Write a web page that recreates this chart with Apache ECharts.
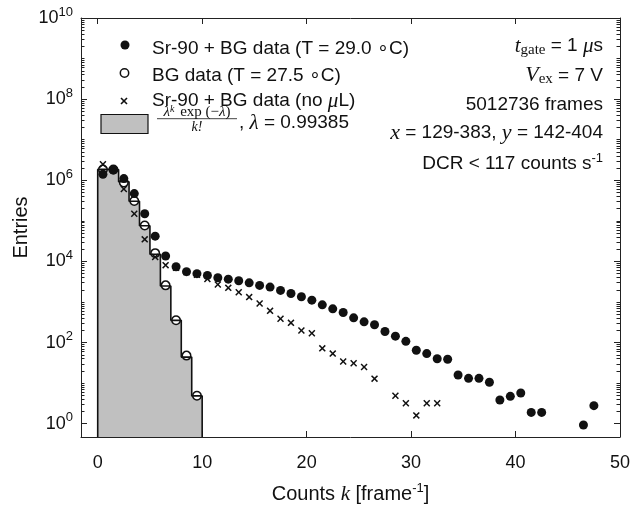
<!DOCTYPE html>
<html><head><meta charset="utf-8">
<script src="https://cdn.jsdelivr.net/npm/echarts@6/dist/echarts.min.js"></script>
<style>html,body{margin:0;padding:0;background:#fff}#c{width:631px;height:505px}</style>
</head><body><div id="c"></div>
<script>
// Poisson expectation histogram: bin edges and counts (bins k..k+1)
const histEdges = [0,1,2,3,4,5,6,7,8,9,10];
const histCounts = [1.855e6, 1.844e6, 9.16e5, 3.04e5, 7.54e4, 1.50e4, 2.48e3, 353, 43.8, 4.84];

// Sr-90 + BG data (T = 29.0 C)
const srX = [0.5,1.5,2.5,3.5,4.5,5.5,6.5,7.5,8.5,9.5,10.5,11.5,12.5,13.5,14.5,15.5,16.5,17.5,18.5,19.5,20.5,21.5,22.5,23.5,24.5,25.5,26.5,27.5,28.5,29.5,30.5,31.5,32.5,33.5,34.5,35.5,36.5,37.5,38.5,39.5,40.5,41.5,42.5,46.5,47.5];
const srY = [1.41e6,1.79e6,1.1e6,4.7e5,1.5e5,4.2e4,1.36e4,7.4e3,5.6e3,5.0e3,4.5e3,3.97e3,3.66e3,3.33e3,2.97e3,2.56e3,2.33e3,1.93e3,1.62e3,1.35e3,1.11e3,850,677,550,407,324,275,187,144,107,64.6,53.5,40,38.8,15.9,13.1,13.1,10.5,3.85,4.72,5.7,1.9,1.9,0.93,2.78];

// BG data (T = 27.5 C)
const bgX = [0.5,1.5,2.5,3.5,4.5,5.5,6.5,7.5,8.5,9.5];
const bgY = [1.85e6,1.84e6,8.8e5,3.1e5,7.7e4,1.6e4,2.57e3,355,47.7,4.9];

// Sr-90 + BG data (no microlens)
const noX = [0.5,1.5,2.5,3.5,4.5,5.5,6.5,7.5,8.5,9.5,10.5,11.5,12.5,13.5,14.5,15.5,16.5,17.5,18.5,19.5,20.5,21.5,22.5,23.5,24.5,25.5,26.5,28.5,29.5,30.5,31.5,32.5];
const noY = [2.48e6,1.8e6,6.1e5,1.5e5,3.5e4,1.28e4,8.1e3,7.0e3,5.4e3,4.7e3,3.7e3,2.7e3,2.23e3,1.74e3,1.32e3,914,605,387,306,198,169,72,53.5,34,30.9,25,12.9,4.9,3.2,1.6,3.2,3.2];

const xMin = -1.6, xMax = 50, yMin = 0.47, yMax = 1e10, yTickMin = 1;

const SANS = 'Liberation Sans, Arial, Helvetica, sans-serif';
const SERIF = 'Liberation Serif, Times New Roman, serif';
const INK = '#111';
const AX = '#222';

// plot box
const G = {left:81, top:18, width:539, height:419};
const decades = Math.log10(yMax) - Math.log10(yMin);
const tickGridH = G.height * (Math.log10(yMax) - Math.log10(yTickMin)) / decades;

function zip(xs, ys){ return xs.map((x,i)=>[x, ys[i]]); }
const histPts = [[histEdges[0], yMin]];
for (let i = 0; i < histCounts.length; i++) {
  histPts.push([histEdges[i], histCounts[i]]);
  histPts.push([histEdges[i+1], histCounts[i]]);
}
histPts.push([histEdges[histEdges.length-1], yMin]);

const crossPath = 'path://M0,1.5 L1.5,0 L5,3.5 L8.5,0 L10,1.5 L6.5,5 L10,8.5 L8.5,10 L5,6.5 L1.5,10 L0,8.5 L3.5,5 Z';

function yLab(v){
  const l = Math.log10(v), e = Math.round(l);
  if (Math.abs(l - e) > 1e-6 || e % 2 !== 0) return '';
  return '{b|10}{s|' + e + '}';
}
const lineOnly = {axisLine:{show:true, onZero:false, lineStyle:{color:AX, width:1}}, axisTick:{show:false}, axisLabel:{show:false}, splitLine:{show:false}};
function tickAxis(pos, major){
  const a = {type:'log', gridIndex:1, min:yTickMin, max:yMax, position:pos, interval: major ? 2 : 1,
    axisLine:{show:false, onZero:false}, splitLine:{show:false},
    axisTick:{show:true, inside:true, length: major ? 6 : 3.5, lineStyle:{color:AX, width:1}},
    axisLabel:{show:false}};
  if (!major) a.minorTick = {show:true, splitNumber:9, length:3.5, lineStyle:{color:AX, width:1}};
  if (major && pos === 'left') a.axisLabel = {show:true, margin:8, formatter:yLab, color:INK,
       rich:{b:{fontSize:18, fontFamily:SANS, color:INK},
             s:{fontSize:13, fontFamily:SANS, color:INK, padding:[0,0,12,0]}}};
  return a;
}

const chart = echarts.init(document.getElementById('c'), null, {renderer:'canvas'});
chart.setOption({
  animation:false,
  backgroundColor:'#fff',
  grid:[
    {left:G.left, top:G.top, width:G.width, height:G.height, containLabel:false, outerBoundsMode:'none'},
    {left:G.left, top:G.top, width:G.width, height:tickGridH, containLabel:false, outerBoundsMode:'none'}
  ],
  xAxis:[
    {type:'value', gridIndex:0, min:xMin, max:xMax, position:'bottom', splitNumber:5,
     axisLine:{show:true, onZero:false, lineStyle:{color:AX, width:1}},
     axisTick:{show:true, inside:true, length:6, lineStyle:{color:AX, width:1}},
     splitLine:{show:false},
     axisLabel:{fontSize:18, fontFamily:SANS, color:INK, margin:17, showMinLabel:false,
       formatter:v => (Math.abs(v % 10) < 1e-9 ? String(v) : '')},
     name:'Counts {k|k} [frame{s|-1}]', nameLocation:'middle', nameGap:45,
     nameTextStyle:{fontSize:20, fontFamily:SANS, color:INK,
       rich:{k:{fontSize:21, fontFamily:SERIF, fontStyle:'italic', color:INK},
             s:{fontSize:13, fontFamily:SANS, color:INK, padding:[0,0,12,0]}}}
    },
    {type:'value', gridIndex:0, min:xMin, max:xMax, position:'top', splitNumber:5,
     axisLine:{show:true, onZero:false, lineStyle:{color:AX, width:1}},
     axisTick:{show:true, inside:true, length:6, lineStyle:{color:AX, width:1}},
     axisLabel:{show:false}, splitLine:{show:false}},
    {type:'value', gridIndex:1, min:xMin, max:xMax, show:false}
  ],
  yAxis:[
    Object.assign({type:'log', gridIndex:0, min:yMin, max:yMax, position:'left',
      name:'Entries', nameLocation:'middle', nameGap:50, nameRotate:90,
      nameTextStyle:{fontSize:20, fontFamily:SANS, color:INK}}, lineOnly),
    Object.assign({type:'log', gridIndex:0, min:yMin, max:yMax, position:'right'}, lineOnly),
    tickAxis('left', true), tickAxis('left', false),
    tickAxis('right', true), tickAxis('right', false)
  ],
  series:[
    {name:'hist-fill', type:'line', data:histPts, symbol:'none', silent:true,
     lineStyle:{width:0, opacity:0}, areaStyle:{color:'#c0c0c0', opacity:1, origin:'start'}, z:1},
    {name:'BG data', type:'scatter', data:zip(bgX,bgY), symbol:'circle', symbolSize:8.5,
     itemStyle:{color:'#fff', borderColor:INK, borderWidth:1.5, opacity:1}, z:2},
    {name:'hist-line', type:'line', data:histPts, symbol:'none', silent:true,
     lineStyle:{width:1.6, color:INK}, z:3},
    {name:'Sr-90 + BG data', type:'scatter', data:zip(srX,srY), symbol:'circle', symbolSize:9,
     itemStyle:{color:INK, opacity:1}, z:4},
    {name:'no uL', type:'scatter', data:zip(noX,noY), symbol:crossPath, symbolSize:7,
     itemStyle:{color:INK, opacity:1}, z:5}
  ],
  graphic:[
    // legend
    {type:'circle', shape:{cx:125, cy:45, r:4.5}, style:{fill:INK}},
    {type:'text', style:{text:'Sr-90 + BG data (T = 29.0 \u2218C)', x:152, y:48.5, verticalAlign:'middle', font:'19px ' + SANS, fill:INK}},
    {type:'circle', shape:{cx:124.5, cy:73, r:4.2}, style:{fill:'#fff', stroke:INK, lineWidth:1.5}},
    {type:'text', style:{text:'BG data (T = 27.5 \u2218C)', x:152, y:76, verticalAlign:'middle', font:'19px ' + SANS, fill:INK}},
    {type:'line', shape:{x1:121, y1:98, x2:127, y2:104}, style:{stroke:INK, lineWidth:1.6}},
    {type:'line', shape:{x1:127, y1:98, x2:121, y2:104}, style:{stroke:INK, lineWidth:1.6}},
    {type:'text', style:{text:'Sr-90 + BG data (no {it|\u03bc}L)', x:152, y:101, verticalAlign:'middle', font:'19px ' + SANS, fill:INK,
      rich:{it:{fontFamily:SERIF, fontStyle:'italic', fontSize:21, fill:INK}}}},
    {type:'rect', shape:{x:101, y:114.5, width:47, height:19}, style:{fill:'#c0c0c0', stroke:INK, lineWidth:1.2}},
    {type:'text', style:{text:'{it|\u03bb}{sup|k}{rm| exp (\u2212}{it|\u03bb}{rm|)}', x:197, y:112, align:'center', verticalAlign:'middle', font:'15px ' + SERIF, fill:INK,
      rich:{it:{fontFamily:SERIF, fontStyle:'italic', fontSize:15, lineHeight:16, fill:INK},
            sup:{fontFamily:SERIF, fontStyle:'italic', fontSize:10, lineHeight:16, verticalAlign:'top', fill:INK, padding:[0,2,0,0]},
            rm:{fontFamily:SERIF, fontSize:15, lineHeight:16, fill:INK}}}},
    {type:'line', shape:{x1:157, y1:118.7, x2:237, y2:118.7}, style:{stroke:INK, lineWidth:0.8}},
    {type:'text', style:{text:'k!', x:197, y:127, align:'center', verticalAlign:'middle', font:'italic 14px ' + SERIF, fill:INK}},
    {type:'text', style:{text:', {it|\u03bb} = 0.99385', x:239, y:123, verticalAlign:'middle', font:'19px ' + SANS, fill:INK,
      rich:{it:{fontFamily:SERIF, fontStyle:'italic', fontSize:21, fill:INK}}}},
    // annotations (right aligned)
    {type:'text', style:{text:'{it|t}{sub|gate}{n| = 1 }{it|\u03bc}{n|s}', x:603, y:46, align:'right', verticalAlign:'middle', fill:INK,
      rich:{it:{fontFamily:SERIF, fontStyle:'italic', fontSize:21, fill:INK},
            sub:{fontFamily:SERIF, fontSize:15, fill:INK, padding:[8,0,0,0]},
            n:{fontFamily:SANS, fontSize:19, fill:INK}}}},
    {type:'text', style:{text:'{it|V}{sub|ex}{n| = 7 V}', x:603, y:75.5, align:'right', verticalAlign:'middle', fill:INK,
      rich:{it:{fontFamily:SERIF, fontStyle:'italic', fontSize:22, fill:INK},
            sub:{fontFamily:SERIF, fontSize:15, fill:INK, padding:[8,0,0,0]},
            n:{fontFamily:SANS, fontSize:19, fill:INK}}}},
    {type:'text', style:{text:'5012736 frames', x:603, y:104.5, align:'right', verticalAlign:'middle', font:'19px ' + SANS, fill:INK}},
    {type:'text', style:{text:'{it|x}{n| = 129-383, }{it|y}{n| = 142-404}', x:603, y:133, align:'right', verticalAlign:'middle', fill:INK,
      rich:{it:{fontFamily:SERIF, fontStyle:'italic', fontSize:22, fill:INK},
            n:{fontFamily:SANS, fontSize:19, fill:INK}}}},
    {type:'text', style:{text:'{n|DCR < 117 counts s}{sup|-1}', x:603, y:164, align:'right', verticalAlign:'middle', fill:INK,
      rich:{n:{fontFamily:SANS, fontSize:19, fill:INK},
            sup:{fontFamily:SANS, fontSize:13, fill:INK, padding:[0,0,12,0]}}}}
  ]
});
</script></body></html>
